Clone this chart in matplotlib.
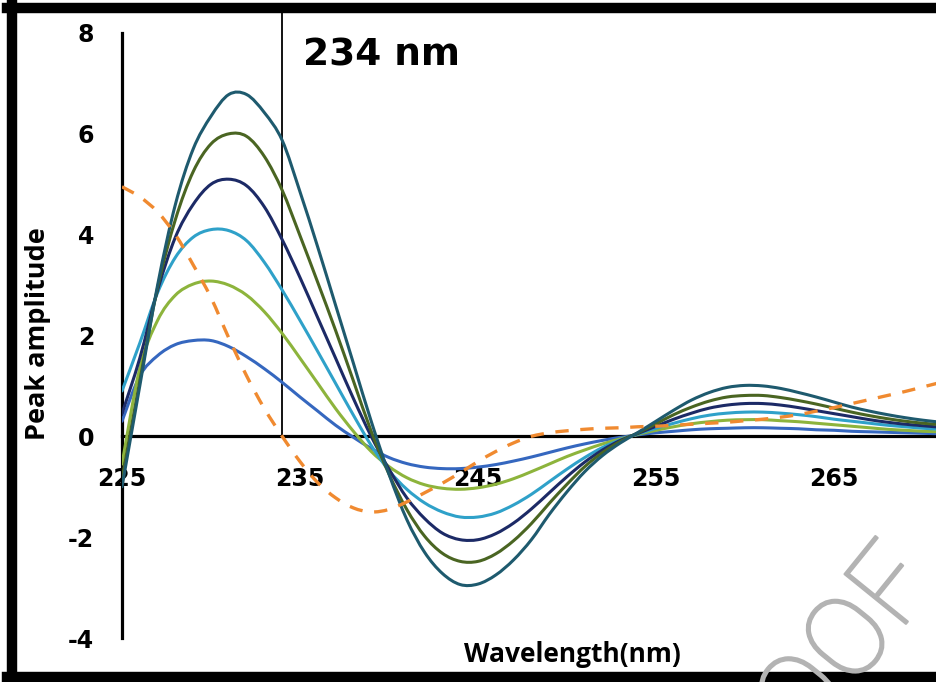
import matplotlib
matplotlib.use("Agg")
import matplotlib.pyplot as plt
from matplotlib.lines import Line2D
from matplotlib.path import Path
from matplotlib.patches import PathPatch
import matplotlib.patheffects as pe
import numpy as np

plt.rcParams["axes.unicode_minus"] = False

# ---- data ----
wavelength = list(range(225, 272))

series_teal = [-1.0, 1.0, 3.0, 4.6, 5.7, 6.35, 6.78, 6.78, 6.42, 5.87,
               4.85, 3.75, 2.6, 1.45, 0.3, -0.75, -1.65, -2.3, -2.72, -2.94,
               -2.93, -2.75, -2.45, -2.05, -1.55, -1.1, -0.7, -0.38, -0.13, 0.08,
               0.3, 0.52, 0.72, 0.87, 0.97, 1.01, 1.0, 0.95, 0.87, 0.78,
               0.68, 0.58, 0.5, 0.43, 0.37, 0.32, 0.28]
series_dkgreen = [-0.85, 1.1, 2.95, 4.3, 5.25, 5.8, 6.0, 5.95, 5.55, 4.88,
                  3.98, 3.05, 2.1, 1.1, 0.1, -0.75, -1.45, -1.98, -2.32, -2.48,
                  -2.48, -2.33, -2.07, -1.73, -1.33, -0.95, -0.6, -0.32, -0.1, 0.07,
                  0.25, 0.43, 0.58, 0.7, 0.78, 0.81, 0.81, 0.77, 0.71, 0.64,
                  0.56, 0.48, 0.41, 0.35, 0.3, 0.26, 0.23]
series_navy = [0.45, 1.55, 2.9, 3.95, 4.6, 5.0, 5.1, 4.97, 4.55, 3.9,
               3.15, 2.35, 1.55, 0.75, 0.0, -0.65, -1.22, -1.63, -1.92, -2.05,
               -2.05, -1.93, -1.72, -1.44, -1.12, -0.8, -0.51, -0.27, -0.08, 0.06,
               0.2, 0.34, 0.46, 0.56, 0.62, 0.65, 0.65, 0.62, 0.57, 0.51,
               0.45, 0.39, 0.33, 0.28, 0.24, 0.21, 0.18]
series_cyan = [0.9, 1.85, 2.85, 3.55, 3.95, 4.1, 4.08, 3.88, 3.45, 2.9,
               2.3, 1.68, 1.05, 0.42, -0.18, -0.68, -1.05, -1.32, -1.5, -1.6,
               -1.6, -1.52, -1.36, -1.15, -0.9, -0.65, -0.42, -0.22, -0.07, 0.05,
               0.16, 0.26, 0.35, 0.42, 0.46, 0.48, 0.48, 0.46, 0.43, 0.39,
               0.34, 0.3, 0.26, 0.22, 0.19, 0.16, 0.14]
series_green = [-0.55, 1.35, 2.3, 2.8, 3.02, 3.08, 3.0, 2.8, 2.47, 2.04,
                1.55, 1.05, 0.55, 0.1, -0.3, -0.6, -0.82, -0.96, -1.03, -1.05,
                -1.02, -0.95, -0.84, -0.7, -0.55, -0.4, -0.27, -0.15, -0.05, 0.04,
                0.12, 0.19, 0.25, 0.29, 0.32, 0.33, 0.33, 0.31, 0.29, 0.26,
                0.23, 0.2, 0.17, 0.14, 0.12, 0.1, 0.09]
series_blue = [0.3, 1.2, 1.6, 1.82, 1.9, 1.9, 1.78, 1.58, 1.34, 1.07,
               0.78, 0.5, 0.22, -0.02, -0.24, -0.42, -0.54, -0.61, -0.64, -0.64,
               -0.61, -0.56, -0.49, -0.41, -0.32, -0.23, -0.15, -0.08, -0.02, 0.03,
               0.07, 0.1, 0.13, 0.15, 0.16, 0.17, 0.17, 0.16, 0.15, 0.13,
               0.12, 0.1, 0.09, 0.08, 0.07, 0.06, 0.05]
series_dashed = [4.95, 4.75, 4.45, 4.0, 3.4, 2.75, 1.95, 1.2, 0.55, 0.0,
                 -0.5, -0.92, -1.22, -1.42, -1.5, -1.45, -1.3, -1.12, -0.93, -0.72,
                 -0.5, -0.3, -0.13, 0.0, 0.07, 0.11, 0.14, 0.16, 0.17, 0.19,
                 0.2, 0.22, 0.24, 0.26, 0.28, 0.31, 0.34, 0.38, 0.43, 0.5,
                 0.57, 0.65, 0.73, 0.81, 0.89, 0.98, 1.07]

marker_wl = 234
marker_label = "234 nm"
x_ticks = [225, 235, 245, 255, 265]
y_ticks = [-4, -2, 0, 2, 4, 6, 8]


def smooth_path(xs, ys):
    """Excel-like smoothed line: Bezier segments through every data point."""
    p = np.column_stack([xs, ys]).astype(float)
    n = len(p)
    verts = [p[0]]
    codes = [Path.MOVETO]
    for i in range(n - 1):
        p0 = p[i - 1] if i > 0 else p[i]
        p1, p2 = p[i], p[i + 1]
        p3 = p[i + 2] if i + 2 < n else p[i + 1]
        c1 = p1 + (p2 - p0) / 6.0
        c2 = p2 - (p3 - p1) / 6.0
        verts += [c1, c2, p2]
        codes += [Path.CURVE4] * 3
    return Path(verts, codes)


# ---- figure ----
W, H = 937, 682
fig = plt.figure(figsize=(W / 100, H / 100), dpi=100)
ax_left, ax_right, ax_top, ax_bottom = 122, 937, 33, 638
ax = fig.add_axes([ax_left / W, (H - ax_bottom) / H,
                   (ax_right - ax_left) / W, (ax_bottom - ax_top) / H])
ax.set_xlim(225, 225 + (ax_right - ax_left) / 17.8)
ax.set_ylim(-4, 8)

lw = 2.2
styles = [
    (series_blue, "#3567BF"),
    (series_green, "#8DB43C"),
    (series_cyan, "#2FA1C9"),
    (series_navy, "#1C2A66"),
    (series_dkgreen, "#4A6522"),
    (series_teal, "#1E5A6E"),
]
for ys, col in styles:
    ax.add_patch(PathPatch(smooth_path(wavelength, ys), fill=False,
                           edgecolor=col, lw=lw, zorder=3,
                           capstyle="round", joinstyle="round"))
ax.add_patch(PathPatch(smooth_path(wavelength, series_dashed), fill=False,
                       edgecolor="#F08A30", lw=2.4, linestyle=(0, (4, 3.5)),
                       zorder=3))

# vertical marker line
ax.plot([marker_wl, marker_wl], [0, 8.4], color="black", lw=1.3,
        clip_on=False, zorder=2)
ax.text(marker_wl + 1.15, 7.55, marker_label, fontsize=27,
        fontweight="bold", family="DejaVu Sans", va="center", ha="left")

# spines
for s in ["top", "right"]:
    ax.spines[s].set_visible(False)
ax.spines["bottom"].set_position(("data", 0))
ax.spines["bottom"].set_linewidth(2.3)
ax.spines["left"].set_linewidth(2.3)
ax.spines["bottom"].set_zorder(2)

ax.set_xticks(x_ticks)
ax.set_yticks(y_ticks)
ax.tick_params(axis="both", length=0)
ax.tick_params(axis="x", pad=22)
ax.tick_params(axis="y", pad=20)
for lab in ax.get_xticklabels() + ax.get_yticklabels():
    lab.set_fontsize(17)
    lab.set_fontweight("bold")
    lab.set_family("DejaVu Sans")

fig.text(572 / W, 1 - 654 / H, "Wavelength(nm)", fontsize=19,
         fontweight="bold", family="Open Sans", ha="center", va="center")
fig.text(38 / W, 1 - 334 / H, "Peak amplitude", fontsize=19.5,
         fontweight="bold", family="Open Sans", ha="center", va="center",
         rotation=90)

# watermark
wm_color = "#B3B3B3"
fig.text(805 / W, 1 - 700 / H, "PROOF", fontsize=80, color=wm_color,
         family="Roboto", fontweight="light", rotation=51,
         ha="center", va="center",
         path_effects=[pe.Stroke(linewidth=1.6, foreground=wm_color),
                       pe.Normal()])

# border
bw = 7.5
fig.add_artist(Line2D([7 / W, 1.0], [1 - 7.5 / H, 1 - 7.5 / H],
                      color="black", lw=bw, transform=fig.transFigure))
fig.add_artist(Line2D([12 / W, 12 / W], [0, 1], color="black", lw=bw,
                      transform=fig.transFigure))
fig.add_artist(Line2D([7 / W, 1.0], [1 - 677 / H, 1 - 677 / H],
                      color="black", lw=bw, transform=fig.transFigure))

fig.savefig("out.png", dpi=100)
